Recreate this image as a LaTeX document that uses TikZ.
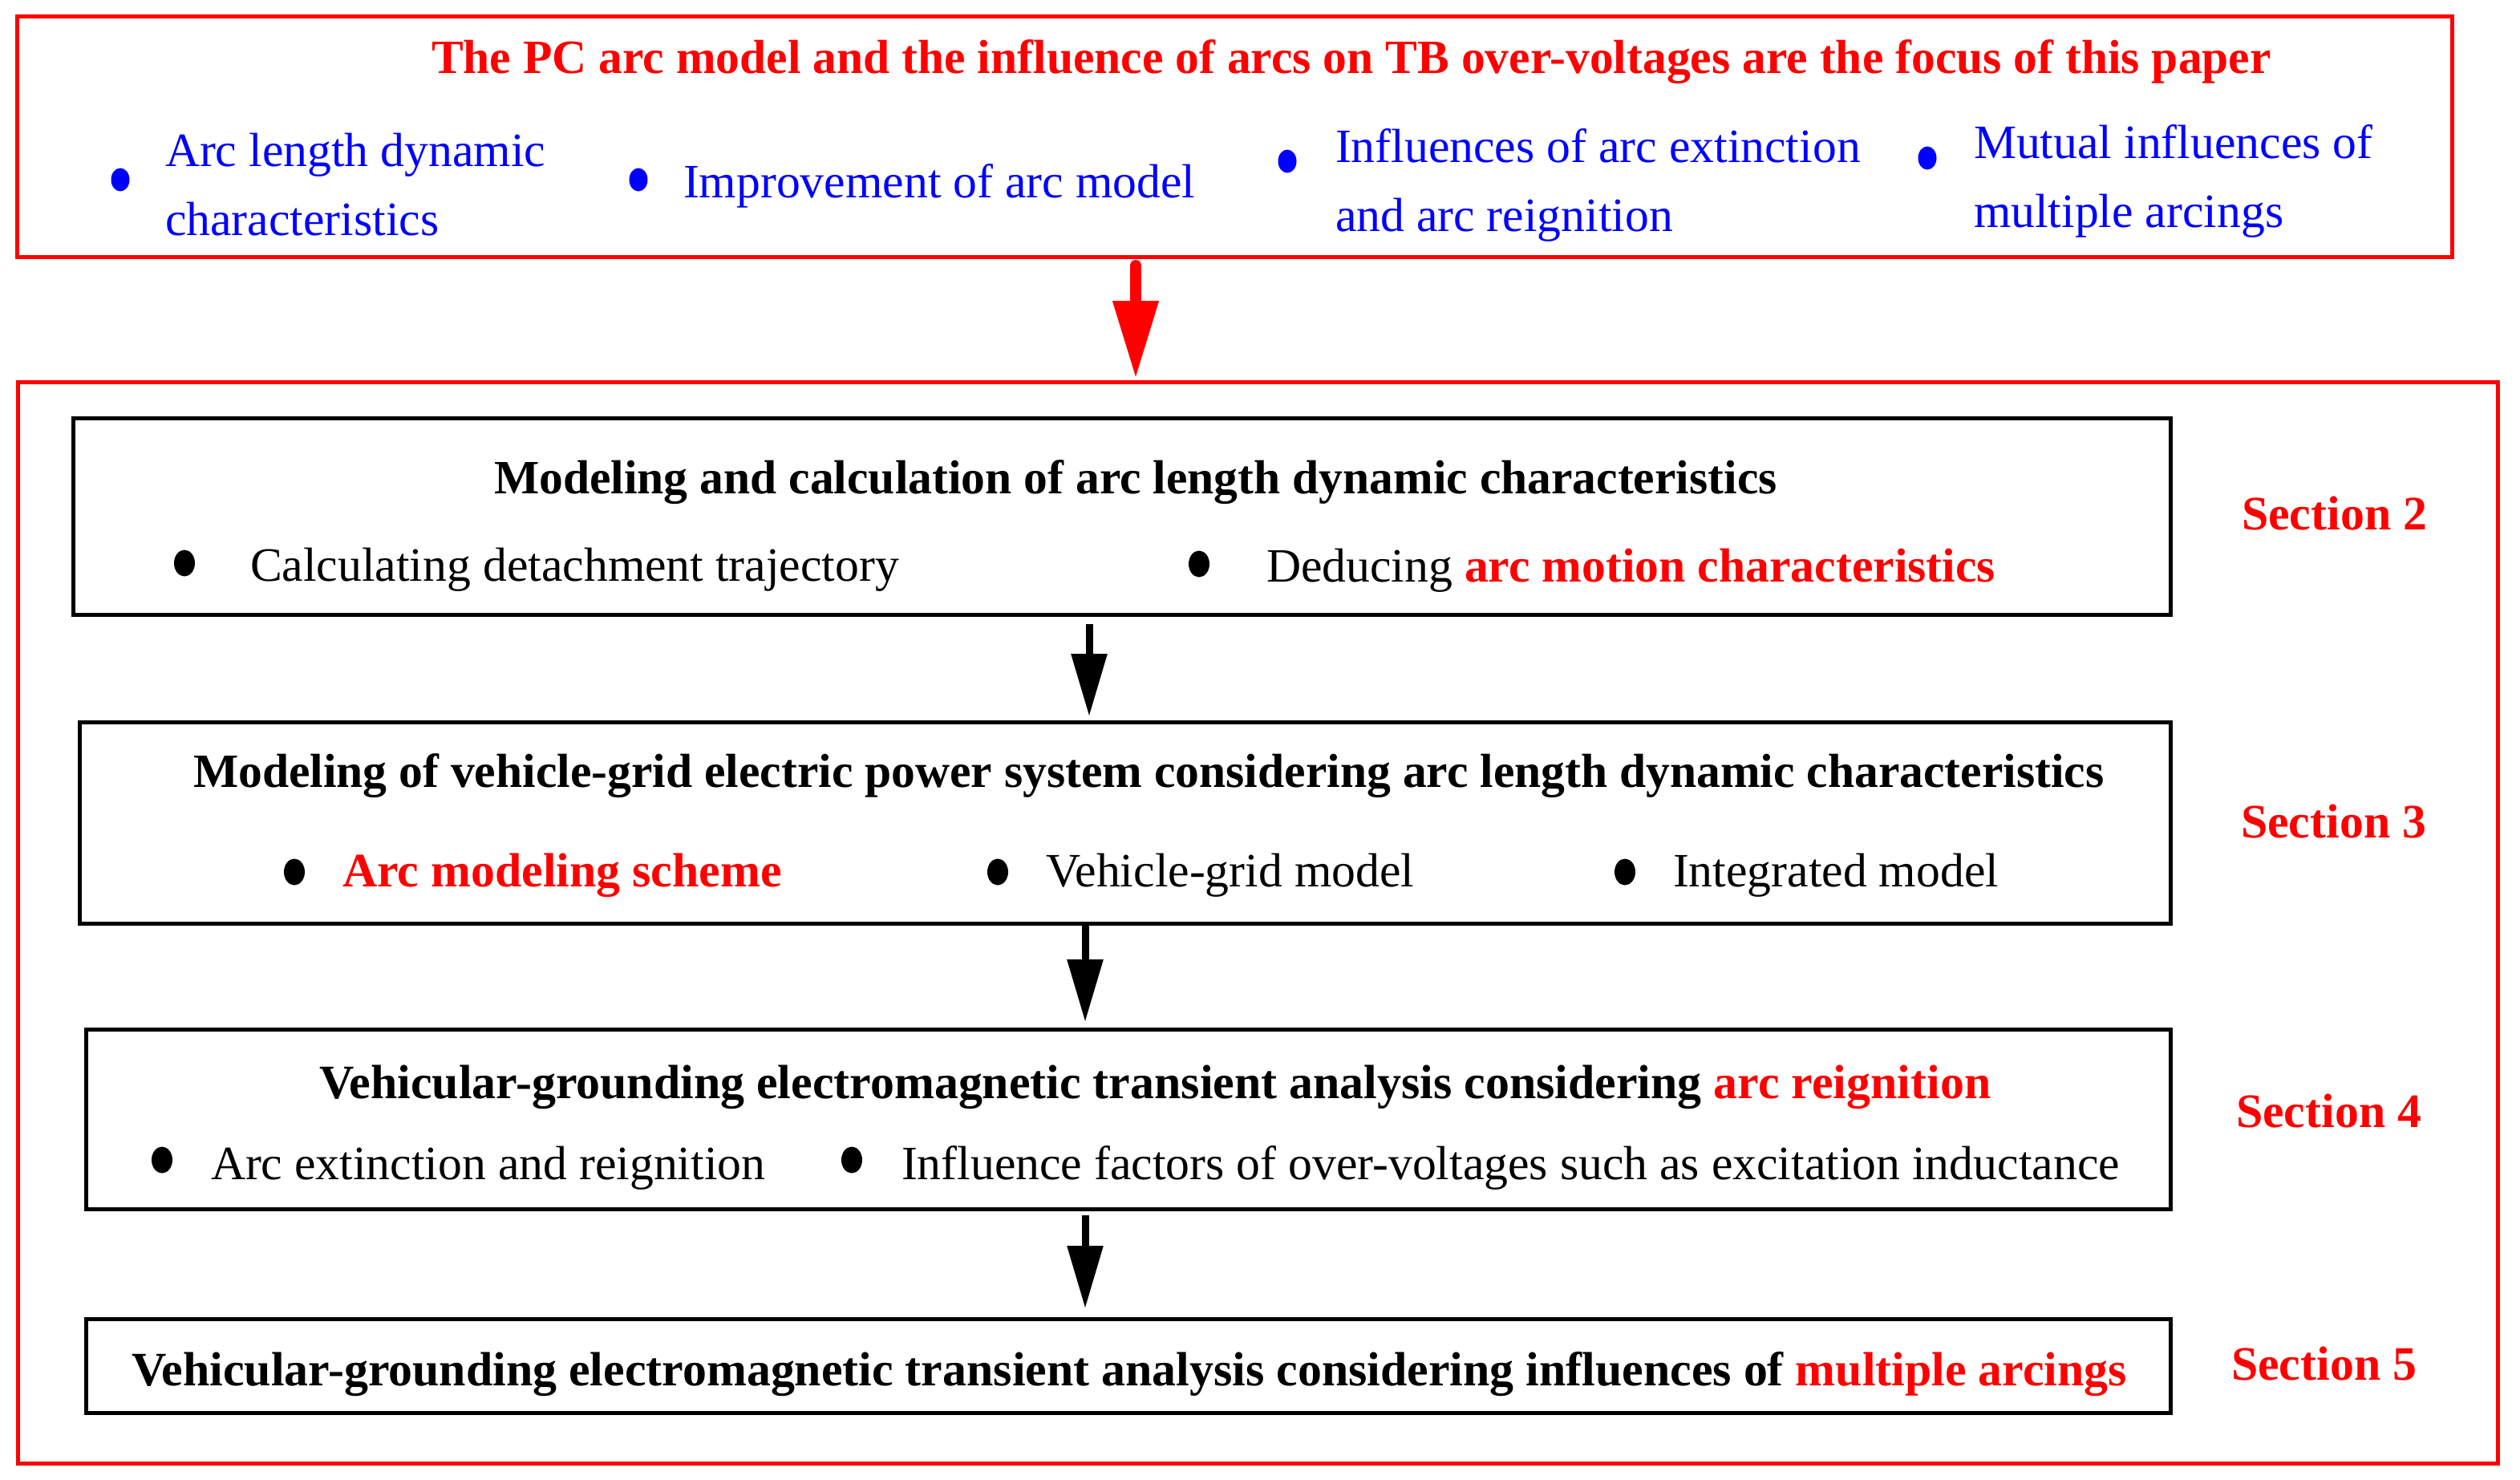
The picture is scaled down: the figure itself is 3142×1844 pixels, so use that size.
\documentclass[tikz,border=0pt]{standalone}
\usepackage{fontspec}
\setmainfont{Liberation Serif}
\usetikzlibrary{arrows.meta}
\definecolor{pured}{RGB}{255,0,0}
\definecolor{publue}{RGB}{0,0,255}
\begin{document}
\begin{tikzpicture}[x=1pt,y=-1pt,
  redframe/.style={draw=pured, line width=5pt, inner sep=0pt, outer sep=0pt},
  blackframe/.style={draw=black, line width=5pt, inner sep=0pt, outer sep=0pt},
  txt/.style={anchor=base west, inner sep=0pt, outer sep=0pt, font=\fontsize{59.7}{68}\selectfont},
  btxt/.style={anchor=base west, inner sep=0pt, outer sep=0pt, font=\fontsize{59.9}{68}\selectfont\bfseries},
  btxts/.style={anchor=base west, inner sep=0pt, outer sep=0pt, font=\fontsize{59.6}{68}\selectfont\bfseries},
  bluetxt/.style={txt, text=publue},
  redarrow/.style={draw=pured, line width=14pt, line cap=round, -{Triangle[length=97pt,width=54pt]}},
  blackarrow/.style={draw=black, line width=9pt, -{Triangle[length=78pt,width=43pt]}},
  bluedot/.style={fill=publue},
  blackdot/.style={fill=black}
]
\useasboundingbox (0,0) rectangle (3142,1844);

% frames
\node[redframe, minimum width=3036pt, minimum height=299pt] (top) at (1539,170.5) {};
\node[redframe, minimum width=3092pt, minimum height=1348pt] (big) at (1568,1150) {};
\node[blackframe, minimum width=2615pt, minimum height=245pt] (b1) at (1398.5,643.5) {};
\node[blackframe, minimum width=2607pt, minimum height=251pt] (b2) at (1402.5,1025.5) {};
\node[blackframe, minimum width=2599pt, minimum height=224pt] (b3) at (1406.5,1395) {};
\node[blackframe, minimum width=2599pt, minimum height=117pt] (b4) at (1406.5,1702.5) {};

% top box
\node[btxts, text=pured] (title) at (538,92) {The PC arc model and the influence of arcs on TB over-voltages are the focus of this paper};
\fill[bluedot] (150,224) ellipse [x radius=11.5, y radius=14.5];
\node[bluetxt] (t1a) at (206,207) {Arc length dynamic};
\node[bluetxt] (t1b) at (206,293) {characteristics};
\fill[bluedot] (796,224) ellipse [x radius=11.5, y radius=14.5];
\node[bluetxt] (t2) at (852,246) {Improvement of arc model};
\fill[bluedot] (1605,201) ellipse [x radius=11.5, y radius=14.5];
\node[bluetxt] (t3a) at (1665,202) {Influences of arc extinction};
\node[bluetxt] (t3b) at (1665,288) {and arc reignition};
\fill[bluedot] (2403,197) ellipse [x radius=11.5, y radius=14.5];
\node[bluetxt] (t4a) at (2461,197) {Mutual influences of};
\node[bluetxt] (t4b) at (2461,283) {multiple arcings};

% box 1
\node[btxts] (b1t) at (616,615) {Modeling and calculation of arc length dynamic characteristics};
\fill[blackdot] (230,702) ellipse [x radius=13, y radius=16.5];
\node[txt] (b1a) at (312,724) {Calculating detachment trajectory};
\fill[blackdot] (1495,703) ellipse [x radius=13, y radius=16.5];
\node[txt] (b1b) at (1579,725) {Deducing \textcolor{pured}{\bfseries arc motion characteristics}};

% box 2
\node[btxts] (b2t) at (241,981) {Modeling of vehicle-grid electric power system considering arc length dynamic characteristics};
\fill[blackdot] (367,1087) ellipse [x radius=13, y radius=16.5];
\node[btxt, text=pured] (b2a) at (427,1105) {Arc modeling scheme};
\fill[blackdot] (1244,1087) ellipse [x radius=13, y radius=16.5];
\node[txt] (b2b) at (1304,1105) {Vehicle-grid model};
\fill[blackdot] (2026,1087) ellipse [x radius=13, y radius=16.5];
\node[txt] (b2c) at (2086,1105) {Integrated model};

% box 3
\node[btxt] (b3t) at (398,1369) {Vehicular-grounding electromagnetic transient analysis considering \textcolor{pured}{arc reignition}};
\fill[blackdot] (202,1446) ellipse [x radius=13, y radius=16.5];
\node[txt] (b3a) at (263,1470) {Arc extinction and reignition};
\fill[blackdot] (1062,1446) ellipse [x radius=13, y radius=16.5];
\node[txt] (b3b) at (1124,1470) {Influence factors of over-voltages such as excitation inductance};

% box 4
\node[btxt] (b4t) at (164,1727) {Vehicular-grounding electromagnetic transient analysis considering influences of \textcolor{pured}{multiple arcings}};

% section labels
\node[btxt, text=pured] (s2) at (2795,660) {Section 2};
\node[btxt, text=pured] (s3) at (2794,1044) {Section 3};
\node[btxt, text=pured] (s4) at (2788,1405) {Section 4};
\node[btxt, text=pured] (s5) at (2782,1720) {Section 5};

% arrows
\coordinate (ra0) at (1416,331);
\coordinate (ra1) at (1416,472);
\coordinate (a1s) at (1358,778);
\coordinate (a1e) at (1358,893);
\coordinate (a2s) at (1353,1150);
\coordinate (a2e) at (1353,1274);
\coordinate (a3s) at (1353,1515);
\coordinate (a3e) at (1353,1631);
\draw[redarrow] (ra0) -- (ra1);
\draw[blackarrow] (a1s) -- (a1e);
\draw[blackarrow] (a2s) -- (a2e);
\draw[blackarrow] (a3s) -- (a3e);
\end{tikzpicture}
\end{document}
